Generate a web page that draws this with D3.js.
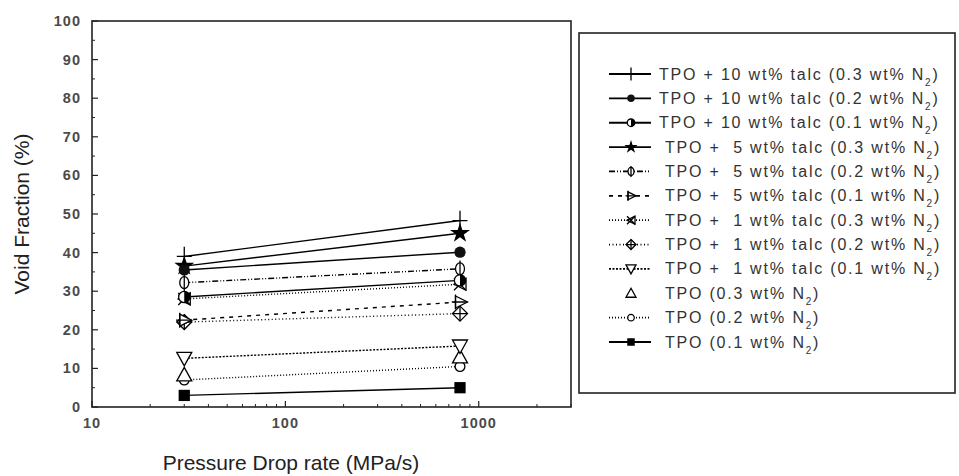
<!DOCTYPE html>
<html>
<head>
<meta charset="utf-8">
<script src="https://cdn.jsdelivr.net/npm/d3@7"></script>
<style>
  body { margin: 0; background: #fff; }
  text { font-family: "Liberation Sans", Arial, sans-serif; white-space: pre; }
</style>
</head>
<body>
<div id="chart"></div>
<script>
// pressure drop rates (MPa/s)
var rates = [30, 800];

var labels = [
    "TPO + 10 wt% talc (0.3 wt% N",
    "TPO + 10 wt% talc (0.2 wt% N",
    "TPO + 10 wt% talc (0.1 wt% N",
    " TPO +  5 wt% talc (0.3 wt% N",
    " TPO +  5 wt% talc (0.2 wt% N",
    " TPO +  5 wt% talc (0.1 wt% N",
    " TPO +  1 wt% talc (0.3 wt% N",
    " TPO +  1 wt% talc (0.2 wt% N",
    " TPO +  1 wt% talc (0.1 wt% N",
    " TPO (0.3 wt% N",
    " TPO (0.2 wt% N",
    " TPO (0.1 wt% N"
];

// void fraction (%) at 30 and 800 MPa/s
var voidAt30  = [39.0, 35.5, 28.5, 36.5, 32.2, 22.5, 28.0, 22.0, 12.6, 8.3, 7.0, 3.0];
var voidAt800 = [48.3, 40.1, 32.8, 45.0, 35.8, 27.2, 31.8, 24.2, 15.8, 13.0, 10.5, 5.0];

var markers = ['plus', 'dot', 'half', 'star', 'phi', 'triBar', 'bowtie', 'diaPlus', 'triDown', 'triUp', 'ring', 'square'];
var dashes = [null, null, null, null, '6,2,1,2,1,2', '4,5', '1,2', '1,2.5', '2,1.5', 'none', '1,2', null];

var yTicks = d3.range(0, 101, 10);
var xTicks = [10, 100, 1000];

var svg = d3.select("#chart")
    .append("svg")
    .attr("width", 959)
    .attr("height", 476)
    .style("background-color", "#fff");

var margin = {top: 21, right: 388, bottom: 69, left: 92};
var width = 959 - margin.left - margin.right;
var height = 476 - margin.top - margin.bottom;

var g = svg.append("g")
    .attr("transform", "translate(" + margin.left + "," + margin.top + ")");

var x = d3.scaleLog().domain([10, 3000]).range([0, width]);
var y = d3.scaleLinear().domain([0, 100]).range([height, 0]);

// minor ticks
var xMinor = [];
[10, 100, 1000].forEach(function (d) {
    for (var k = 2; k <= 9; k++) if (d * k <= 3000) xMinor.push(d * k);
});
g.selectAll(".xminor").data(xMinor).enter().append("line")
    .attr("x1", d => x(d)).attr("x2", d => x(d))
    .attr("y1", height).attr("y2", height - 3)
    .attr("stroke", "#222").attr("stroke-width", 1);
g.selectAll(".xmajor").data(xTicks).enter().append("line")
    .attr("x1", d => x(d)).attr("x2", d => x(d))
    .attr("y1", height).attr("y2", height - 6)
    .attr("stroke", "#222").attr("stroke-width", 1.2);
g.selectAll(".yminor").data(d3.range(5, 100, 10)).enter().append("line")
    .attr("x1", 0).attr("x2", 3)
    .attr("y1", d => y(d)).attr("y2", d => y(d))
    .attr("stroke", "#222").attr("stroke-width", 1);
g.selectAll(".ymajor").data(yTicks).enter().append("line")
    .attr("x1", 0).attr("x2", 6)
    .attr("y1", d => y(d)).attr("y2", d => y(d))
    .attr("stroke", "#222").attr("stroke-width", 1.2);

// tick labels
g.selectAll(".ylab").data(yTicks).enter().append("text")
    .attr("x", -11).attr("y", d => y(d) + 5)
    .attr("text-anchor", "end")
    .attr("font-size", 14.5).attr("font-weight", "bold").attr("fill", "#4a4a4a")
    .attr("letter-spacing", 1)
    .text(d => d);
g.selectAll(".xlab").data(xTicks).enter().append("text")
    .attr("x", d => x(d)).attr("y", height + 21)
    .attr("text-anchor", "middle")
    .attr("font-size", 14.5).attr("font-weight", "bold").attr("fill", "#4a4a4a")
    .attr("letter-spacing", 1)
    .text(d => d);

// axis titles
svg.append("text")
    .attr("transform", "translate(29," + (margin.top + height / 2) + ") rotate(-90)")
    .attr("text-anchor", "middle")
    .attr("font-size", 21).attr("fill", "#222")
    .text("Void Fraction (%)");
svg.append("text")
    .attr("x", 291).attr("y", 470)
    .attr("text-anchor", "middle")
    .attr("font-size", 21).attr("fill", "#222")
    .text("Pressure Drop rate (MPa/s)");

function drawMarker(sel, type, s) {
    var sw = 1.3;
    if (type == 'plus') {
        sel.append("path").attr("d", "M" + (-s) + ",0H" + s + "M0," + (-s * 1.3) + "V" + (s * 1.3))
            .attr("stroke", "#000").attr("stroke-width", sw).attr("fill", "none");
    } else if (type == 'dot') {
        sel.append("circle").attr("r", s * 0.75).attr("fill", "#111");
    } else if (type == 'half') {
        sel.append("circle").attr("r", s * 0.75).attr("fill", "#fff").attr("stroke", "#000").attr("stroke-width", sw);
        var r = s * 0.75;
        sel.append("path").attr("d", "M0," + (-r) + "A" + r + "," + r + " 0 0 1 0," + r + "Z").attr("fill", "#000");
    } else if (type == 'star') {
        sel.append("path").attr("d", d3.symbol().type(d3.symbolStar).size(s * s * 2.2)()).attr("fill", "#000");
    } else if (type == 'phi') {
        sel.append("ellipse").attr("rx", s * 0.6).attr("ry", s * 0.8).attr("fill", "#fff").attr("stroke", "#000").attr("stroke-width", sw);
        sel.append("path").attr("d", "M0," + (-s * 1.1) + "V" + (s * 1.1)).attr("stroke", "#000").attr("stroke-width", sw);
    } else if (type == 'triBar') {
        sel.append("path").attr("d", "M" + (-s * 0.6) + "," + (-s * 0.8) + "L" + s + ",0L" + (-s * 0.6) + "," + (s * 0.8) + "Z")
            .attr("fill", "#fff").attr("stroke", "#000").attr("stroke-width", sw);
        sel.append("path").attr("d", "M" + (-s * 1.1) + ",0H" + s + "M" + (-s * 0.6) + "," + (-s) + "V" + s)
            .attr("stroke", "#000").attr("stroke-width", sw);
    } else if (type == 'bowtie') {
        sel.append("path").attr("d", "M" + s * 0.8 + "," + (-s * 0.8) + "L" + (-s * 0.8) + ",0L" + s * 0.8 + "," + (s * 0.8) + "Z")
            .attr("fill", "#fff").attr("stroke", "#000").attr("stroke-width", sw);
        sel.append("path").attr("d", "M" + (-s * 0.8) + "," + (-s * 0.8) + "L" + s * 0.8 + "," + s * 0.8 + "M" + (-s * 0.8) + "," + s * 0.8 + "L" + s * 0.8 + "," + (-s * 0.8))
            .attr("stroke", "#000").attr("stroke-width", sw);
    } else if (type == 'diaPlus') {
        sel.append("path").attr("d", "M0," + (-s) + "L" + s + ",0L0," + s + "L" + (-s) + ",0Z")
            .attr("fill", "#fff").attr("stroke", "#000").attr("stroke-width", sw);
        sel.append("path").attr("d", "M" + (-s) + ",0H" + s + "M0," + (-s) + "V" + s)
            .attr("stroke", "#000").attr("stroke-width", sw);
    } else if (type == 'triDown') {
        sel.append("path").attr("d", "M" + (-s) + "," + (-s * 0.8) + "H" + s + "L0," + s + "Z")
            .attr("fill", "#fff").attr("stroke", "#000").attr("stroke-width", sw);
    } else if (type == 'triUp') {
        sel.append("path").attr("d", "M" + (-s) + "," + (s * 0.8) + "H" + s + "L0," + (-s) + "Z")
            .attr("fill", "#fff").attr("stroke", "#000").attr("stroke-width", sw);
    } else if (type == 'ring') {
        sel.append("circle").attr("r", s * 0.65).attr("fill", "#fff").attr("stroke", "#000").attr("stroke-width", sw);
    } else if (type == 'square') {
        sel.append("rect").attr("x", -s * 0.75).attr("y", -s * 0.75).attr("width", s * 1.5).attr("height", s * 1.5).attr("fill", "#000");
    }
}

// series lines
var line = d3.line().x(d => x(d[0])).y(d => y(d[1]));
labels.forEach(function (lab, i) {
    if (dashes[i] == 'none') return;
    var pts = rates.map(function (r, j) { return [r, j == 0 ? voidAt30[i] : voidAt800[i]]; });
    g.append("path")
        .attr("d", line(pts))
        .attr("fill", "none")
        .attr("stroke", "#000")
        .attr("stroke-width", 1.4)
        .attr("stroke-dasharray", dashes[i]);
});

// markers (lower ones first)
d3.range(labels.length).reverse().forEach(function (i) {
    [voidAt30[i], voidAt800[i]].forEach(function (v, j) {
        var m = g.append("g").attr("transform", "translate(" + x(rates[j]) + "," + y(v) + ")");
        drawMarker(m, markers[i], 7.5);
    });
});

// frame
g.append("rect")
    .attr("width", width).attr("height", height)
    .attr("fill", "none").attr("stroke", "#222").attr("stroke-width", 1.6);

// legend
var leg = svg.append("g").attr("transform", "translate(579,33)");
leg.append("rect")
    .attr("width", 376).attr("height", 360)
    .attr("fill", "#fff").attr("stroke", "#222").attr("stroke-width", 1.6);

var rowY = d3.scaleLinear().domain([0, 11]).range([41, 309]);
labels.forEach(function (lab, i) {
    var row = leg.append("g").attr("transform", "translate(0," + rowY(i) + ")");
    if (dashes[i] != 'none') {
        row.append("line")
            .attr("x1", 30).attr("x2", 72)
            .attr("stroke", "#000").attr("stroke-width", 1.8)
            .attr("stroke-dasharray", dashes[i]);
    }
    var m = row.append("g").attr("transform", "translate(52,0)");
    drawMarker(m, markers[i], 5);
    var t = row.append("text")
        .attr("x", 80).attr("y", 5.5)
        .attr("font-size", 16).attr("fill", "#333")
        .attr("letter-spacing", 1.8).attr("word-spacing", 0)
        .attr("xml:space", "preserve");
    t.append("tspan").text(lab);
    t.append("tspan").attr("font-size", 10).attr("dy", 6).text("2");
    t.append("tspan").attr("dy", -6).text(")");
});
</script>
</body>
</html>
